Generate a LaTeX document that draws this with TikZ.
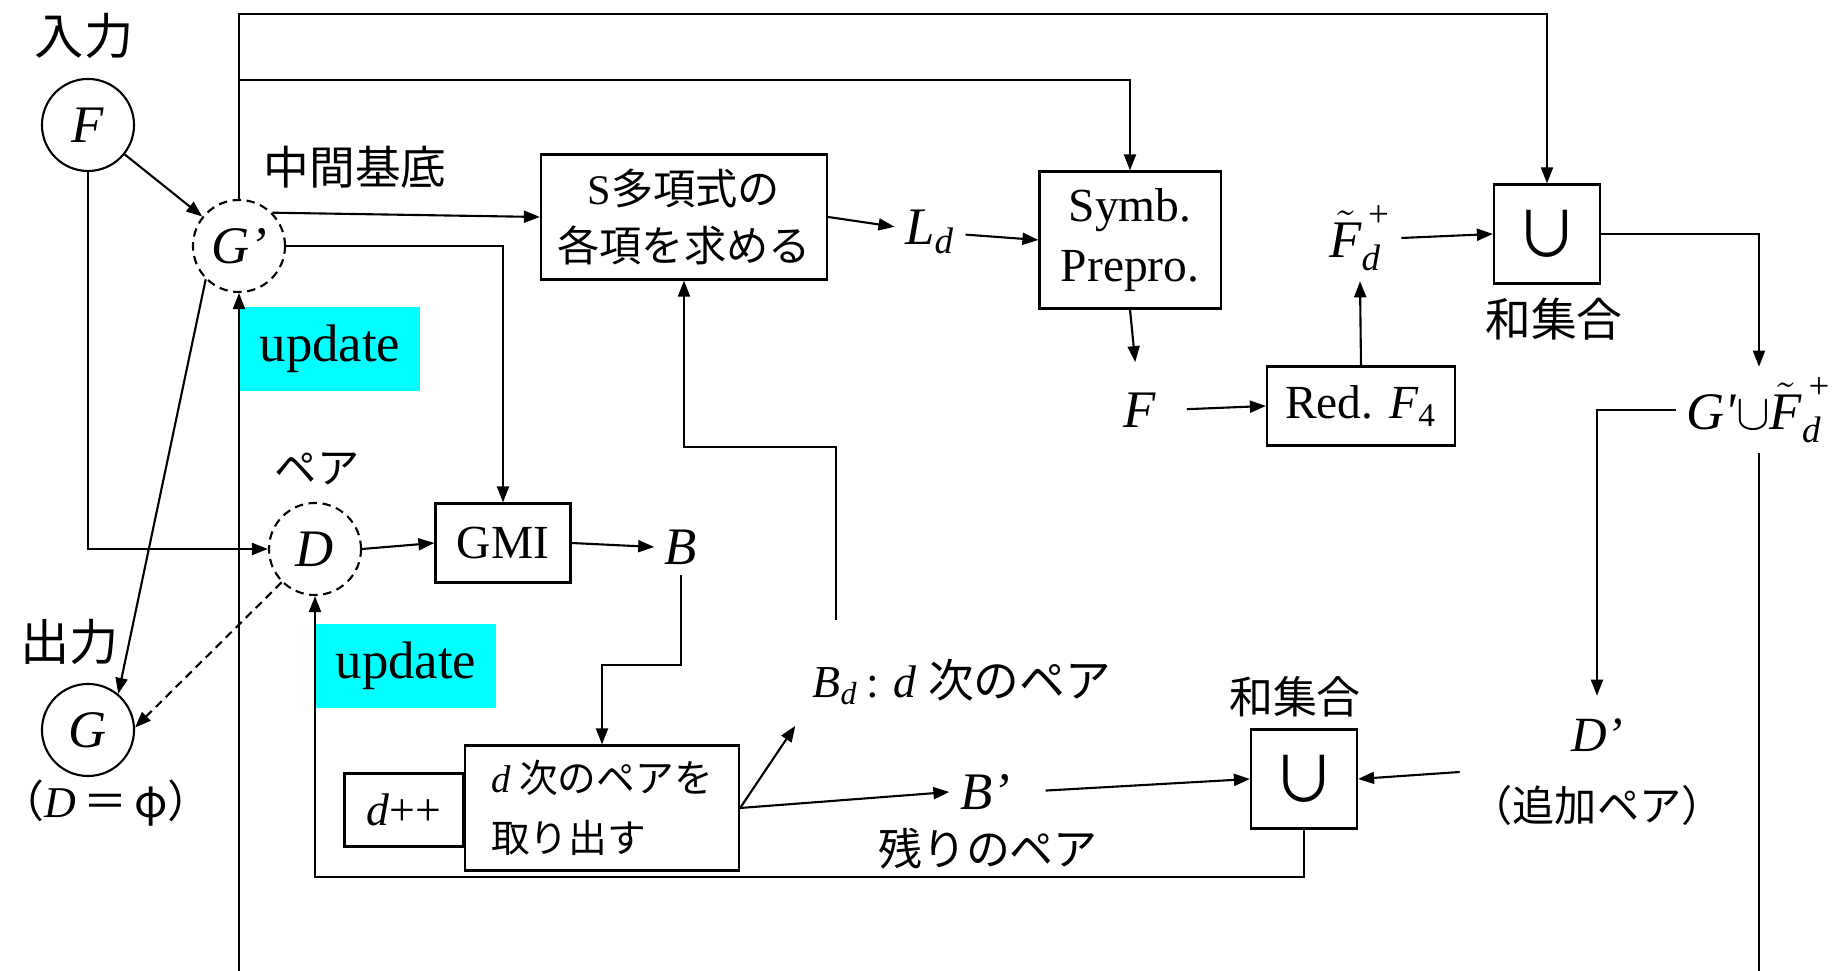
\documentclass[tikz,border=0pt]{standalone}
\usepackage{fontspec}
\usepackage{amsmath}
\setmainfont{Liberation Serif}
\newfontfamily\jpfont{Noto Sans CJK JP}
\usetikzlibrary{arrows.meta}
\definecolor{updcyan}{RGB}{0,255,255}
\newcommand{\vi}[1]{{\normalfont\itshape #1}}
\tikzset{
  blk/.style={
    draw,
    line width=0.6pt,
    align=center,
    inner sep=0pt,
    font=\jpfont\fontsize{12pt}{16pt}\selectfont
  },
  setc/.style={circle, draw, line width=0.6pt, minimum size=0.92cm, inner sep=0pt,
    font=\fontsize{15pt}{17pt}\selectfont\itshape},
  tmpset/.style={setc, dash pattern=on 2.4pt off 1.6pt},
  var/.style={inner sep=0.1cm, font=\fontsize{15pt}{17pt}\selectfont\itshape},
  jtag/.style={inner sep=0pt, font=\jpfont\fontsize{13pt}{15pt}\selectfont},
  upd/.style={fill=updcyan, minimum width=1.8cm, minimum height=0.84cm, inner sep=0pt,
    font=\fontsize{15pt}{17pt}\selectfont},
  cupbox/.style={draw, line width=0.6pt, minimum width=1.06cm, minimum height=0.99cm,
    inner sep=0pt, font=\jpfont\fontsize{18pt}{18pt}\selectfont},
  flow/.style={-{Triangle[length=0.16cm,width=0.12cm]}, line width=0.6pt},
  wire/.style={line width=0.6pt}
}

\begin{document}
\begin{tikzpicture}[x=0.01cm,y=-0.01cm]
\useasboundingbox (0,0) rectangle (1833,971);

% input / output side
\node[jtag, font=\jpfont\fontsize{14pt}{16pt}\selectfont] (inlbl) at (84,36) {入力};
\node[setc] (fin) at (88,125) {F};
\node[tmpset] (gmid) at (239,246) {G'};
\node[jtag] (midlbl) at (355,167) {中間基底};
\node[upd] (upg) at (330,349) {update};
\node[jtag, font=\jpfont\fontsize{12pt}{14pt}\selectfont] (pairlbl) at (317,469) {ペア};
\node[tmpset] (dset) at (315,549) {D};
\node[jtag, font=\jpfont\fontsize{14pt}{16pt}\selectfont] (outlbl) at (70,642) {出力};
\node[setc] (gout) at (88,730) {G};
\node[jtag, font=\jpfont\fontsize{12.5pt}{15pt}\selectfont] (dempty) at (106,803) {（\vi{D}\,＝\,φ）};
\node[upd] (upd) at (406,666) {update};

% upper chain
\node[blk, minimum width=2.86cm, minimum height=1.25cm] (spoly) at (684,217) {\textrm{S}多項式の\\各項を求める};
\node[var] (ld) at (930,232) {L$_{\textit{d}}$};
\node[blk, font=\fontsize{13.5pt}{17pt}\selectfont, minimum width=1.81cm, minimum height=1.37cm] (symb) at (1130,240) {Symb.\\Prepro.};
\node[var] (fred) at (1140,410) {F};
\node[blk, font=\fontsize{13.5pt}{16pt}\selectfont, minimum width=1.88cm, minimum height=0.79cm] (red) at (1361,406) {Red. \vi{F}$_{\text{4}}$};
\node[var] (ftil) at (1360,238) {$\tilde{\textit{F}}^{\,\textup{+}}_{\textit{d}}$};
\node[cupbox] (cupg) at (1547,234) {∪};
\node[jtag] (unig) at (1554,319) {和集合};
\node[var] (gunion) at (1759,410) {G\textquotesingle$\cup\tilde{\textit{F}}^{\,\textup{+}}_{\textit{d}}$};

% lower chain
\node[blk, font=\fontsize{13.5pt}{16pt}\selectfont, minimum width=1.35cm, minimum height=0.79cm] (gmi) at (503,543) {GMI};
\node[var] (bset) at (681,547) {B};
\node[blk, font=\fontsize{13pt}{16pt}\selectfont, minimum width=1.19cm, minimum height=0.73cm] (dinc) at (404,810) {\vi{d}++};
\node[blk, font=\jpfont\fontsize{11pt}{17pt}\selectfont, minimum width=2.74cm, minimum height=1.25cm, align=left] (takebox) at (602,808) {\vi{d} 次のペアを\\取り出す};
\node[var, anchor=west, font=\fontsize{13pt}{15pt}\selectfont\itshape] (bdeg) at (802,682) {B$_{\textit{d}}$\,\textup{:} d {\jpfont 次のペア}};
\node[var] (brest) at (985,792) {B'};
\node[jtag, font=\jpfont\fontsize{12.5pt}{14pt}\selectfont] (restlbl) at (988,849) {残りのペア};
\node[jtag, font=\jpfont\fontsize{12.5pt}{14pt}\selectfont] (unid) at (1295,697) {和集合};
\node[cupbox] (cupd) at (1304,779) {∪};
\node[var, align=center, font=\fontsize{14pt}{20pt}\selectfont\itshape] (dnew) at (1597,772) {D'\\{\jpfont\fontsize{12pt}{14pt}\selectfont （追加ペア）}};

\coordinate (lbot) at (239,971);
\coordinate (rbot) at (1759,971);

% connectors
\draw[flow] (fin) -- (gmid);
\draw[flow] (gmid.45) -- (spoly.west);
\draw[flow] (gmid.east) -| (gmi.north);
\draw[flow] (gmid.north) -- ++(0,-185) -| (cupg.north);
\draw[flow] (gmid.north) -- ++(0,-119) -| (symb.north);
\draw[flow] (lbot) -- (gmid.south);
\draw[flow] (gmid.225) -- (gout.50);
\draw[flow] (fin.south) |- (dset.west);
\draw[flow] (dset.east) -- (gmi.west);
\draw[flow, dash pattern=on 2.4pt off 1.6pt] (dset.225) -- (gout.3);

\draw[flow] (spoly.east) -- (ld);
\draw[flow] (ld) -- (symb.west);
\draw[flow, shorten >=0.2cm] (symb.south) -- (fred);
\draw[flow, shorten <=0.2cm] (fred.east) -- (red.west);
\draw[flow] (red.north) -- (ftil.south);
\draw[flow] (ftil.east) -- (cupg.west);
\draw[flow] (cupg.east) -| (gunion.north);
\draw[flow, shorten >=0.12cm] (gunion.west) -| (dnew.north);
\draw[wire] (gunion.south) -- (rbot);

\draw[flow] (gmi.east) -- (bset.west);
\draw[flow] (bset.south) |- ([yshift=0.79cm]takebox.north) -- (takebox.north);
\draw[flow, shorten >=0.12cm] (takebox.east) -- (bdeg.south west);
\draw[flow] (takebox.east) -- (brest.west);
\draw[flow] ([shift={(0.34cm,0.28cm)}]bdeg.north west) -- ++(0,-173) -| (spoly.south);
\draw[flow, shorten <=0.25cm] (brest.east) -- (cupd.west);
\draw[flow] (dnew.west) -- (cupd.east);
\draw[flow] (cupd.south) -- ++(0,47) -| (dset.south);

\end{tikzpicture}
\end{document}
